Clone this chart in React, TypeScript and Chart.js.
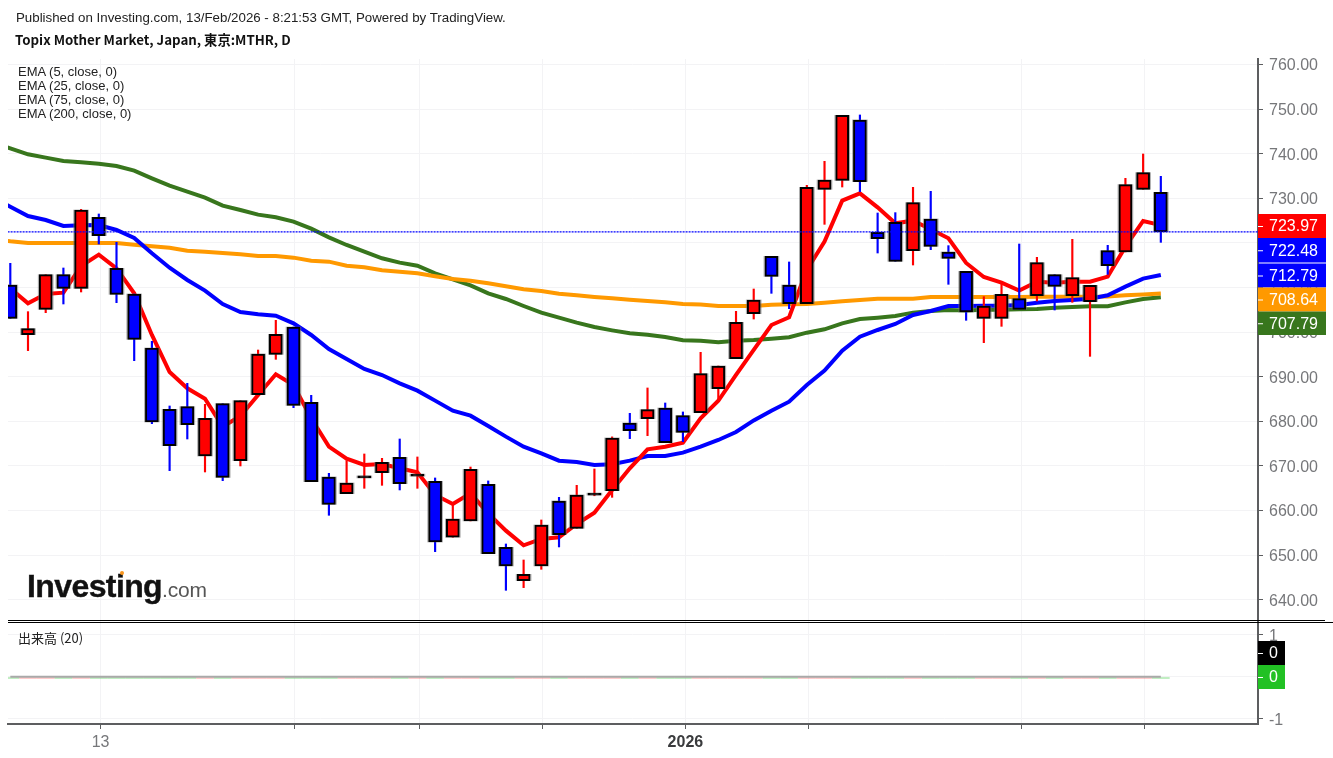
import { useEffect, useRef } from "react";
import { Chart, registerables } from "chart.js";

Chart.register(...registerables);

// candles
const opens = [710.56, 699.42, 705.1, 712.87, 709.81, 725.73, 714.3, 708.54, 696.43, 682.68, 683.28, 672.22, 683.95, 671.17, 685.97, 695.01, 701.14, 684.25, 667.51, 663.78, 667.3, 668.48, 671.92, 667.7, 666.54, 653.99, 657.65, 665.87, 651.74, 644.27, 647.56, 662.13, 656.0, 663.45, 664.45, 679.62, 680.59, 682.98, 681.26, 681.94, 687.32, 694.04, 704.13, 716.99, 710.56, 706.37, 732.01, 734.03, 747.56, 722.37, 724.61, 718.26, 725.36, 717.96, 713.6, 703.08, 703.08, 707.49, 708.17, 712.87, 708.17, 706.82, 718.26, 717.96, 732.01, 731.34];
const highs = [715.42, 704.58, 712.87, 714.37, 727.52, 726.48, 720.13, 708.54, 697.93, 683.43, 688.51, 683.8, 683.95, 684.62, 695.98, 702.64, 701.14, 685.82, 668.33, 671.17, 672.67, 671.7, 676.03, 672.0, 667.29, 661.61, 669.75, 666.62, 652.49, 648.9, 657.87, 662.95, 665.64, 669.31, 676.5, 681.79, 687.47, 684.1, 682.09, 695.46, 692.4, 704.66, 709.66, 716.99, 715.72, 732.91, 738.29, 748.6, 748.68, 726.7, 726.78, 732.46, 731.56, 719.38, 713.6, 707.94, 711.16, 719.75, 716.76, 712.87, 720.8, 710.48, 719.45, 734.47, 739.93, 734.92];
const lows = [703.08, 695.84, 704.35, 706.3, 708.99, 719.75, 706.6, 693.59, 679.47, 668.93, 676.03, 668.63, 666.69, 669.98, 685.97, 693.89, 683.05, 666.46, 658.92, 663.78, 664.97, 665.64, 664.6, 664.97, 650.77, 653.99, 657.65, 650.32, 642.1, 642.7, 646.81, 651.82, 656.0, 663.3, 662.95, 676.11, 676.78, 675.21, 675.43, 681.94, 684.4, 694.04, 702.93, 708.69, 705.25, 706.37, 724.16, 732.53, 731.49, 717.73, 715.87, 715.04, 718.48, 710.71, 702.64, 697.63, 701.29, 705.1, 706.97, 704.95, 706.67, 694.56, 712.95, 717.96, 732.01, 720.12];
const closes = [703.08, 700.77, 712.87, 709.81, 727.37, 721.62, 708.47, 698.38, 679.84, 674.53, 679.24, 680.66, 667.43, 684.62, 695.09, 699.5, 683.58, 666.46, 661.38, 666.17, 667.3, 670.8, 666.02, 667.7, 652.94, 658.09, 669.23, 650.32, 647.56, 645.69, 656.75, 654.58, 663.48, 663.45, 676.26, 677.9, 682.61, 675.21, 677.53, 690.68, 692.4, 702.19, 707.2, 712.5, 706.37, 732.46, 734.1, 748.6, 733.73, 720.95, 715.87, 729.02, 719.23, 716.54, 704.51, 705.85, 708.47, 705.1, 715.56, 710.26, 712.2, 710.48, 714.89, 733.06, 735.75, 722.48];

const ema5 = [709.8, 706.45, 708.54, 708.84, 714.82, 717.36, 714.3, 708.69, 699.35, 691.05, 687.39, 685.07, 678.79, 681.18, 685.9, 690.53, 688.14, 680.66, 674.31, 671.62, 670.2, 670.43, 669.46, 668.56, 663.48, 661.46, 663.85, 659.36, 655.48, 652.19, 653.61, 653.98, 656.97, 659.51, 664.6, 669.46, 673.72, 674.31, 675.21, 680.67, 684.6, 690.38, 695.99, 701.59, 703.31, 713.92, 720.28, 729.47, 731.11, 727.97, 724.39, 724.98, 723.04, 721.02, 715.5, 712.35, 711.08, 709.29, 711.3, 711.08, 711.3, 711.3, 712.43, 719.15, 724.91, 723.97];
const ema25 = [728.12, 726.03, 725.13, 723.79, 723.94, 724.01, 722.89, 721.1, 717.66, 714.44, 711.68, 709.29, 706.3, 704.5, 703.98, 703.68, 701.96, 699.35, 696.2, 693.97, 691.73, 690.38, 688.51, 686.87, 684.63, 682.39, 681.26, 678.95, 676.56, 674.31, 672.82, 671.17, 670.87, 670.2, 670.35, 671.17, 672.22, 672.22, 672.97, 674.31, 675.81, 677.6, 680.2, 682.38, 684.4, 688.14, 691.35, 695.84, 698.97, 700.47, 701.81, 703.83, 704.73, 705.85, 705.85, 705.92, 705.92, 706.07, 706.6, 706.97, 707.2, 707.49, 708.24, 710.18, 711.98, 712.79];
const ema75 = [741.2, 739.86, 739.11, 738.36, 738.06, 737.76, 737.24, 736.19, 734.47, 732.83, 731.49, 730.14, 728.35, 727.37, 726.33, 725.73, 724.76, 723.19, 721.25, 719.53, 718.03, 716.54, 715.57, 714.89, 713.17, 711.83, 710.48, 708.69, 707.42, 705.85, 704.35, 703.23, 702.11, 701.14, 700.39, 699.72, 699.42, 698.9, 698.15, 698.08, 697.71, 698.08, 698.23, 698.53, 698.83, 699.87, 700.62, 701.97, 702.94, 703.24, 703.61, 704.36, 704.73, 704.95, 704.85, 705.03, 705.03, 705.1, 705.18, 705.48, 705.63, 705.78, 705.78, 706.67, 707.42, 707.79];
const ema200 = [720.35, 719.98, 719.98, 719.98, 719.98, 719.98, 719.98, 719.6, 719.23, 718.93, 718.26, 718.03, 717.73, 717.43, 717.06, 717.06, 716.69, 716.01, 715.79, 714.89, 714.52, 713.85, 713.55, 713.17, 712.5, 711.9, 711.53, 710.93, 710.26, 709.59, 709.21, 708.61, 708.24, 707.87, 707.57, 707.27, 706.97, 706.67, 706.3, 706.18, 705.85, 705.85, 705.85, 706.15, 706.22, 706.3, 706.6, 706.9, 707.2, 707.5, 707.5, 707.5, 707.87, 707.87, 707.87, 707.87, 707.87, 707.87, 707.95, 707.95, 707.95, 707.95, 708.0, 708.25, 708.45, 708.64];

// the bar before the visible window, lines run in from off the left edge
const ema5Before = 712.5;
const ema25Before = 730.2;
const ema75Before = 742.6;
const ema200Before = 720.9;

const volumes = [0, 0, 0, 0, 0, 0, 0, 0, 0, 0, 0, 0, 0, 0, 0, 0, 0, 0, 0, 0, 0, 0, 0, 0, 0, 0, 0, 0, 0, 0, 0, 0, 0, 0, 0, 0, 0, 0, 0, 0, 0, 0, 0, 0, 0, 0, 0, 0, 0, 0, 0, 0, 0, 0, 0, 0, 0, 0, 0, 0, 0, 0, 0, 0, 0, 0];
const volumeAvg = [0, 0, 0, 0, 0, 0, 0, 0, 0, 0, 0, 0, 0, 0, 0, 0, 0, 0, 0, 0, 0, 0, 0, 0, 0, 0, 0, 0, 0, 0, 0, 0, 0, 0, 0, 0, 0, 0, 0, 0, 0, 0, 0, 0, 0, 0, 0, 0, 0, 0, 0, 0, 0, 0, 0, 0, 0, 0, 0, 0, 0, 0, 0, 0, 0, 0];

const lastClose = 722.48;

// bottom axis, ticks sit a little right of the candles in the original
const xTicks = [5.1, 16.08, 23.1, 30.06, 38.14, 45.08, 57.14, 64.07];
const xTickLabels = ["13", "", "", "", "2026", "", "", ""];

const legendLines = ["EMA (5, close, 0)", "EMA (25, close, 0)", "EMA (75, close, 0)", "EMA (200, close, 0)"];

// boxes on the price axis
const priceBoxes = [
  { text: "723.97", color: "#ff0000", top: 214, bottom: 238 },
  { text: "722.48", color: "#0000ff", top: 238, bottom: 262.5 },
  { text: "712.79", color: "#0000ff", top: 263.5, bottom: 287.5 },
  { text: "708.64", color: "#ff9900", top: 287.5, bottom: 311.5 },
  { text: "707.79", color: "#38761d", top: 311.5, bottom: 335 },
];
const volumeBoxes = [
  { text: "0", color: "#000000", top: 641, bottom: 665 },
  { text: "0", color: "#22c124", top: 665, bottom: 689 },
];

const AXIS_FONT = "'Liberation Sans', Arial, sans-serif";
const RED = "#ff0000";
const BLUE = "#0000ff";
const GRID = "#f3f3f5";
const AXIS = "#5d5e60";
const TICK_TEXT = "#76777a";
// zero volume bars are only a sliver hanging under the average line
const VOLUME_STUB = 0.045;

const boxesPlugin = {
  id: "boxes",
  afterDraw(chart: Chart) {
    const ctx = chart.ctx;
    const left = chart.chartArea.right;
    ctx.save();

    // double line between the two panes
    ctx.fillStyle = "#000000";
    ctx.fillRect(8, 620, 1317, 1);
    ctx.fillRect(8, 622, 1325, 1);

    ctx.textBaseline = "middle";
    ctx.textAlign = "left";
    ctx.font = `16px ${AXIS_FONT}`;
    for (const b of priceBoxes) {
      ctx.fillStyle = b.color;
      ctx.fillRect(left, b.top, 68, b.bottom - b.top);
      ctx.fillStyle = "#ffffff";
      ctx.fillRect(left, (b.top + b.bottom) / 2, 5, 1);
      ctx.fillText(b.text, left + 11, (b.top + b.bottom) / 2 + 1);
    }
    for (const b of volumeBoxes) {
      ctx.fillStyle = b.color;
      ctx.fillRect(left, b.top, 27, b.bottom - b.top);
      ctx.fillStyle = "#ffffff";
      ctx.fillRect(left, (b.top + b.bottom) / 2, 5, 1);
      ctx.fillText(b.text, left + 11, (b.top + b.bottom) / 2 + 1);
    }
    ctx.restore();
  },
};

export default function App() {
  const canvasRef = useRef<HTMLCanvasElement | null>(null);

  useEffect(() => {
    if (!canvasRef.current) return;

    const up = (i: number) => closes[i] >= opens[i];
    const xs = opens.map((_, i) => i);
    const emaData = (values: number[], before?: number) => {
      const points = values.map((y, i) => ({ x: xs[i], y }));
      return before === undefined ? points : [{ x: -1, y: before }, ...points];
    };
    const emaStyle = { type: "line" as const, yAxisID: "y", borderWidth: 4, pointRadius: 0, tension: 0 };

    const chart = new Chart(canvasRef.current, {
      type: "bar",
      data: {
        datasets: [
          {
            label: "last",
            type: "line",
            yAxisID: "y",
            data: [{ x: -1, y: lastClose }, { x: 71, y: lastClose }],
            borderColor: BLUE,
            borderWidth: 1.2,
            borderDash: [2, 1],
            pointRadius: 0,
            order: 0,
          },
          {
            label: "bodies",
            yAxisID: "y",
            data: xs.map((x) => ({ x, y: [opens[x], closes[x]] })),
            backgroundColor: xs.map((i) => (opens[i] === closes[i] ? "#000000" : up(i) ? RED : BLUE)),
            borderColor: "#000000",
            borderWidth: 2,
            borderSkipped: false,
            barThickness: 13,
            minBarLength: 2,
            grouped: false,
            order: 1,
          },
          {
            // soft grey edge around each body
            label: "halo",
            yAxisID: "y",
            data: xs.map((x) => ({ x, y: [opens[x], closes[x]] })),
            backgroundColor: "rgba(110,110,110,0.55)",
            barThickness: 15,
            minBarLength: 2,
            grouped: false,
            order: 1.5,
          },
          {
            label: "wicks",
            yAxisID: "y",
            data: xs.map((x) => ({ x, y: [lows[x], highs[x]] })),
            backgroundColor: xs.map((i) => (up(i) ? RED : BLUE)),
            barThickness: 1.5,
            grouped: false,
            order: 2,
          },
          { ...emaStyle, label: "EMA 5", data: emaData(ema5, ema5Before), borderColor: RED, order: 3 },
          { ...emaStyle, label: "EMA 25", data: emaData(ema25, ema25Before), borderColor: BLUE, order: 4 },
          { ...emaStyle, label: "EMA 200", data: emaData(ema200, ema200Before), borderColor: "#ff9900", order: 5 },
          { ...emaStyle, label: "EMA 75", data: emaData(ema75, ema75Before), borderColor: "#38761d", order: 6 },
          {
            label: "volume",
            yAxisID: "yVol",
            data: xs.map((x) => ({ x, y: [volumes[x], volumes[x] - VOLUME_STUB] })),
            backgroundColor: xs.map((i) => (up(i) ? "rgba(255,0,0,0.2)" : "rgba(34,193,36,0.28)")),
            barThickness: 17,
            grouped: false,
            order: 8,
          },
          {
            label: "volume avg",
            type: "line",
            yAxisID: "yVol",
            data: emaData(volumeAvg),
            borderColor: "#a9a9a9",
            borderWidth: 2,
            pointRadius: 0,
            order: 7,
          },
        ],
      },
      options: {
        animation: false,
        responsive: false,
        devicePixelRatio: 1,
        layout: { padding: { left: 8, top: 59, right: 0, bottom: 0 } },
        plugins: { legend: { display: false }, tooltip: { enabled: false }, title: { display: false } },
        scales: {
          x: {
            type: "linear",
            min: -0.13,
            max: 70.49,
            offset: false,
            afterBuildTicks: (scale: any) => {
              scale.ticks = xTicks.map((value) => ({ value }));
            },
            afterFit: (scale: any) => {
              scale.height = 34;
            },
            grid: { color: GRID, tickColor: AXIS, tickLength: 5, offset: false },
            border: { color: AXIS, width: 2 },
            ticks: {
              autoSkip: false,
              maxRotation: 0,
              padding: 4,
              color: (c: any) => (c.tick?.value === xTicks[4] ? "#3a3b3d" : TICK_TEXT),
              font: (c: any) =>
                c.tick?.value === xTicks[4]
                  ? { family: AXIS_FONT, size: 16, weight: "bold" }
                  : { family: AXIS_FONT, size: 16 },
              callback: (_v: any, i: number) => xTickLabels[i],
            },
          },
          y: {
            type: "linear",
            position: "right",
            stack: "panes",
            stackWeight: 562,
            min: 635.22,
            max: 761.23,
            afterFit: (scale: any) => {
              scale.width = 75;
            },
            grid: { color: GRID, tickColor: AXIS, tickLength: 5 },
            border: { color: AXIS, width: 2 },
            ticks: {
              stepSize: 10,
              includeBounds: false,
              autoSkip: false,
              padding: 6,
              labelOffset: 1.5,
              color: TICK_TEXT,
              font: { family: AXIS_FONT, size: 16 },
              callback: (v: any) => Number(v).toFixed(2),
            },
          },
          yVol: {
            type: "linear",
            position: "right",
            stack: "panes",
            stackWeight: 103,
            min: -1.12,
            max: 1.323,
            afterFit: (scale: any) => {
              scale.width = 75;
            },
            grid: { color: GRID, tickColor: AXIS, tickLength: 5 },
            border: { color: AXIS, width: 2 },
            ticks: {
              stepSize: 1,
              includeBounds: false,
              autoSkip: false,
              padding: 6,
              labelOffset: 1.5,
              color: TICK_TEXT,
              font: { family: AXIS_FONT, size: 16 },
            },
          },
        },
      },
      plugins: [boxesPlugin],
    } as any);

    return () => chart.destroy();
  }, []);

  return (
    <div style={{ position: "absolute", left: 0, top: 0, width: 1333, height: 758, background: "#fff", overflow: "hidden" }}>
      <canvas ref={canvasRef} width={1333} height={758} style={{ position: "absolute", left: 0, top: 0 }} />
      <div style={{ position: "absolute", left: 16, top: 10, font: `13.3px ${AXIS_FONT}`, color: "#222", whiteSpace: "nowrap" }}>
        Published on Investing.com, 13/Feb/2026 - 8:21:53 GMT, Powered by TradingView.
      </div>
      <div style={{ position: "absolute", left: 15, top: 30, font: "bold 13.3px 'Noto Sans CJK JP', 'Noto Sans', sans-serif", color: "#111", whiteSpace: "nowrap" }}>
        Topix Mother Market, Japan, 東京:MTHR, D
      </div>
      {legendLines.map((line, i) => (
        <div key={line} style={{ position: "absolute", left: 18, top: 65 + i * 14, font: `13px/14px ${AXIS_FONT}`, color: "#222", whiteSpace: "nowrap" }}>
          {line}
        </div>
      ))}
      <div style={{ position: "absolute", left: 18, top: 630, font: "13px/16px 'Noto Sans CJK JP', sans-serif", color: "#222", whiteSpace: "nowrap" }}>
        出来高 (20)
      </div>
      <div style={{ position: "absolute", left: 27, top: 568, font: `bold 32px/36px ${AXIS_FONT}`, color: "#111", letterSpacing: "-0.6px", WebkitTextStroke: "0.4px #111", whiteSpace: "nowrap" }}>
        Investing<span style={{ font: `21px ${AXIS_FONT}`, color: "#555", letterSpacing: "-0.2px", WebkitTextStroke: "0" }}>.com</span>
      </div>
      <div style={{ position: "absolute", left: 120, top: 571, width: 4, height: 4, borderRadius: 2, background: "#f7941d" }} />
    </div>
  );
}
